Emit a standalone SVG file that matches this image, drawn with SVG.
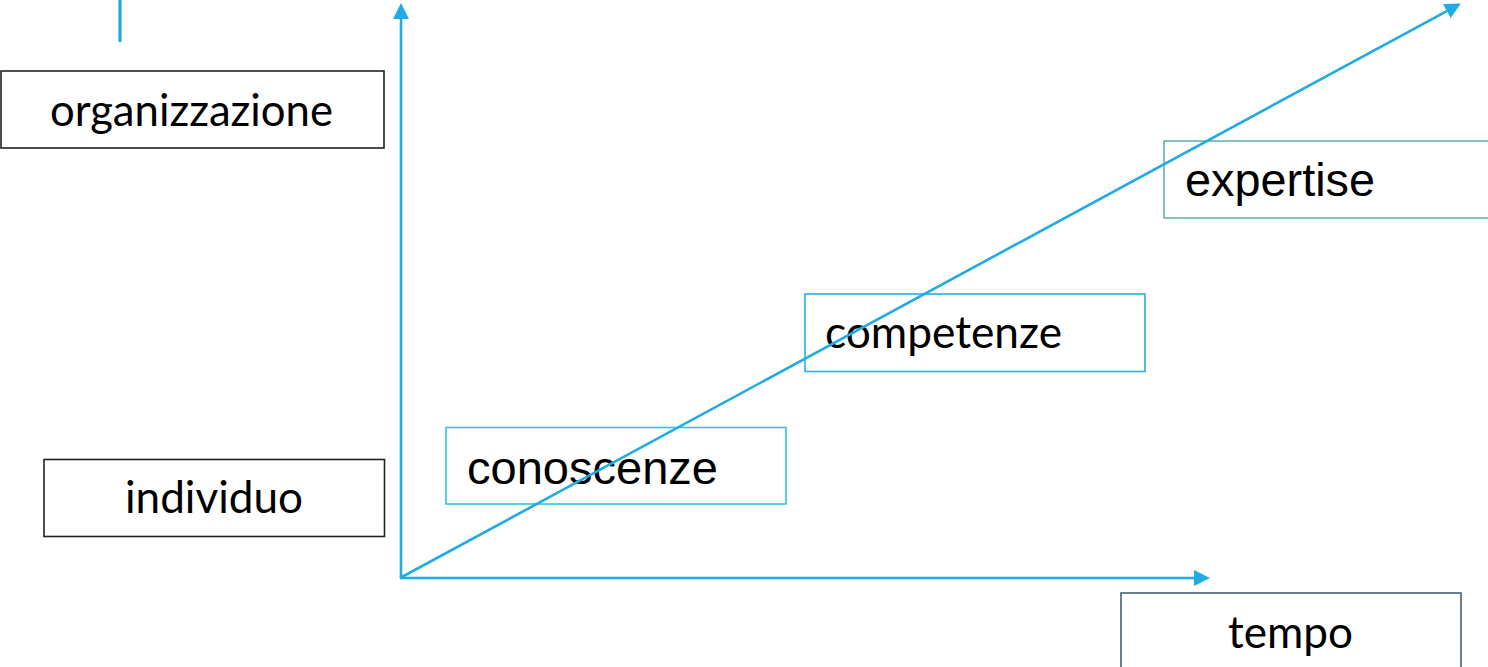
<svg xmlns="http://www.w3.org/2000/svg" width="1488" height="667" viewBox="0 0 1488 667">
<style>
.box{fill:none;stroke-width:1.6}
.cal{font-family:Lato,"Open Sans","Noto Sans",sans-serif;font-size:45px;fill:#000}
.ari{font-family:"Liberation Sans",Arial,sans-serif;font-size:47px;fill:#000}
.ax{stroke:#22ABE2;stroke-width:2.6;fill:none}
</style>
<defs>
<marker id="arr" markerUnits="userSpaceOnUse" markerWidth="16" markerHeight="16" viewBox="0 0 15 15" refX="0" refY="7.5" orient="auto">
<path d="M0,0 L15,7.5 L0,15 z" fill="#22ABE2"/>
</marker>
</defs>
<rect width="1488" height="667" fill="#fff"/>
<g id="top-mark"><line x1="120" y1="0" x2="120" y2="42" stroke="#22ABE2" stroke-width="3.2"/></g>
<g id="organizzazione"><rect class="box" x="1" y="71" width="383" height="77" stroke="#222"/><text class="cal" x="50" y="126" textLength="283" lengthAdjust="spacingAndGlyphs">organizzazione</text></g>
<g id="individuo"><rect class="box" x="44" y="459.5" width="340.5" height="77" stroke="#222"/><text class="cal" x="125" y="513" textLength="178" lengthAdjust="spacingAndGlyphs">individuo</text></g>
<g id="conoscenze"><rect class="box" x="446" y="427.5" width="340" height="76.5" stroke="#33C6DA"/><text class="ari" x="467" y="484" textLength="251" lengthAdjust="spacingAndGlyphs">conoscenze</text></g>
<g id="competenze"><rect class="box" x="805" y="294" width="340" height="77.5" stroke="#2AAEE3"/><text class="cal" x="825" y="348" textLength="237" lengthAdjust="spacingAndGlyphs">competenze</text></g>
<g id="expertise"><rect class="box" x="1164" y="141" width="340" height="77" stroke="#6AB2AE"/><text class="ari" x="1185" y="196" textLength="190" lengthAdjust="spacingAndGlyphs">expertise</text></g>
<g id="tempo"><rect class="box" x="1121" y="593" width="340" height="90" stroke="#44607A"/><text class="cal" x="1228" y="648" textLength="125" lengthAdjust="spacingAndGlyphs">tempo</text></g>
<g id="connectors">
<line class="ax" x1="401" y1="578" x2="401" y2="19" marker-end="url(#arr)"/>
<line class="ax" x1="400" y1="578" x2="1194" y2="578" marker-end="url(#arr)"/>
<line class="ax" x1="400" y1="578" x2="1446.8" y2="11.1" marker-end="url(#arr)"/>
</g>
</svg>
